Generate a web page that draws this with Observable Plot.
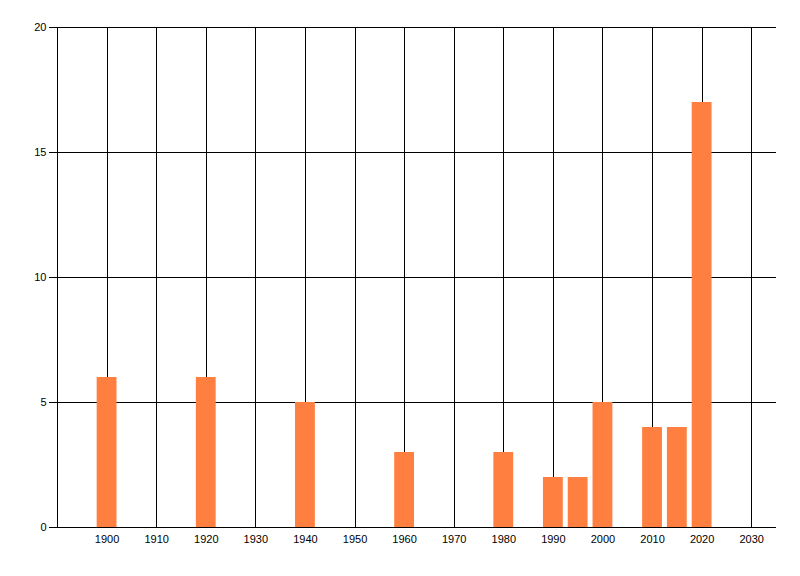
<!DOCTYPE html>
<html>
<head>
<meta charset="utf-8">
<script src="https://cdn.jsdelivr.net/npm/d3@7"></script>
<script src="https://cdn.jsdelivr.net/npm/@observablehq/plot@0.6"></script>
<style>
  html, body { margin: 0; padding: 0; background: #fff; }
  svg { display: block; }
  svg line, svg path { shape-rendering: crispEdges; }
</style>
</head>
<body>
<div id="chart"></div>
<script>
const years = [1900, 1920, 1940, 1960, 1980, 1990, 1995, 2000, 2010, 2015, 2020];
const counts = [6, 6, 5, 3, 3, 2, 2, 5, 4, 4, 17];
const xTicks = [1900, 1910, 1920, 1930, 1940, 1950, 1960, 1970, 1980, 1990, 2000, 2010, 2020, 2030];
const yTicks = [0, 5, 10, 15, 20];
const xDomain = [1890, 2035];
const yDomain = [0, 20];
const barHalfWidth = 2;

const bars = years.map((y, i) => ({year: y, count: counts[i]}));

const chart = Plot.plot({
  width: 800,
  height: 576,
  marginLeft: 57,
  marginRight: 24,
  marginTop: 27,
  marginBottom: 49,
  style: {fontFamily: "'Liberation Sans', Arial, sans-serif", fontSize: "11px", color: "#000", background: "#fff"},
  x: {domain: xDomain, ticks: xTicks, tickFormat: d => String(d), label: null, tickSize: 0, tickPadding: 8},
  y: {domain: yDomain, ticks: yTicks, label: null, tickSize: 8, tickPadding: 3},
  marks: [
    Plot.ruleX(xTicks, {y1: yDomain[0], y2: yDomain[1], stroke: "#000", strokeWidth: 1}),
    Plot.ruleY(yTicks, {x1: xDomain[0], x2: xDomain[1], stroke: "#000", strokeWidth: 1}),
    Plot.rectY(bars, {x1: d => d.year - barHalfWidth, x2: d => d.year + barHalfWidth, y1: 0, y2: "count", fill: "#ff7f41", inset: 0}),
    Plot.ruleX([xDomain[0]], {y1: yDomain[0], y2: yDomain[1], stroke: "#000"}),
    Plot.ruleY([0], {x1: xDomain[0], x2: xDomain[1], stroke: "#000"}),
    Plot.axisX({ticks: xTicks, tickFormat: d => String(d), tickSize: 0, tickPadding: 8, label: null}),
    Plot.axisY({ticks: yTicks, tickSize: 8, tickPadding: 3, label: null})
  ]
});
document.getElementById("chart").appendChild(chart);
</script>
</body>
</html>
